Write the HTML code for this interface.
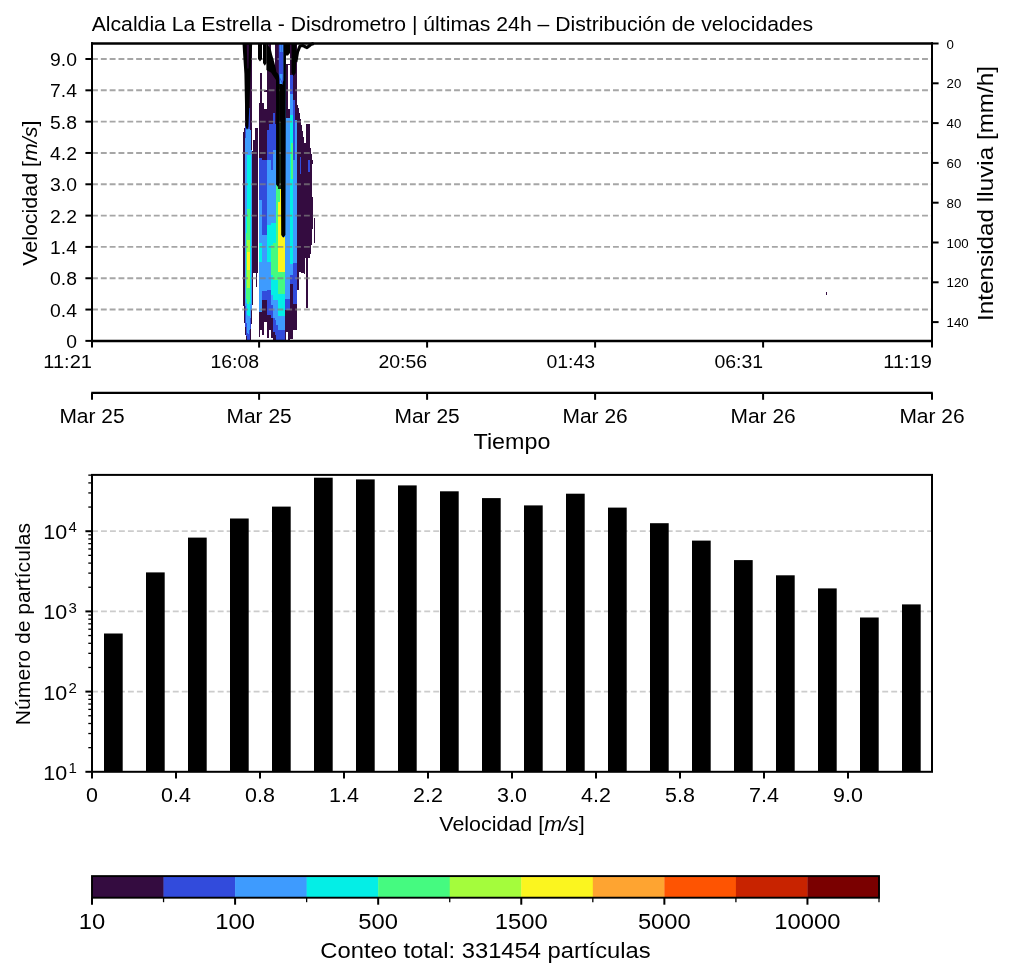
<!DOCTYPE html>
<html><head><meta charset="utf-8"><title>Disdrometro</title>
<style>
html,body{margin:0;padding:0;background:#fff;width:1013px;height:977px;overflow:hidden;}
svg{display:block;will-change:transform;font-family:"Liberation Sans",sans-serif;}
</style></head><body>
<svg width="1013" height="977" viewBox="0 0 1013 977">
<rect width="1013" height="977" fill="#fff"/>
<text x="91.70" y="31.00" font-size="19.88" text-anchor="start" textLength="721.45" lengthAdjust="spacingAndGlyphs">Alcaldia La Estrella - Disdrometro | últimas 24h – Distribución de velocidades</text>
<g shape-rendering="crispEdges"><polygon points="246.6,43.0 252.3,43.0 252.8,300.0 251.6,322.0 250.7,341.0 246.0,341.0 244.4,322.0 243.2,300.0 243.4,132.0 245.0,126.0" fill="#340c40"/>
<polygon points="248.5,108.0 251.2,108.0 251.6,300.0 250.6,328.0 249.8,340.0 247.0,340.0 245.4,326.0 244.6,300.0 244.8,130.0" fill="#324bdc"/>
<polygon points="246.0,128.0 251.0,130.0 251.4,300.0 250.2,322.0 249.2,334.0 247.6,334.0 246.2,320.0 245.2,300.0 245.4,140.0" fill="#3e9bfe"/>
<polygon points="250.5,150.0 252.0,150.0 252.1,300.0 251.0,318.0 250.0,318.0" fill="#3e9bfe"/>
<polygon points="247.4,155.0 250.8,155.0 251.0,298.0 249.6,316.0 247.6,316.0 246.1,298.0 246.6,200.0" fill="#04eee6"/>
<polygon points="246.6,209.0 250.4,209.0 250.4,298.0 249.2,304.0 247.6,304.0 246.3,298.0" fill="#45fa80"/>
<polygon points="247.0,240.0 250.0,240.0 249.8,288.0 247.2,288.0" fill="#a4fc3c"/>
<polygon points="247.4,252.0 249.6,252.0 249.6,270.0 247.4,270.0" fill="#fbf51f"/>
<rect x="249.7" y="88.0" width="2.1" height="42.0" fill="#340c40"/>
<rect x="252.8" y="140.0" width="3.0" height="133.0" fill="#340c40"/>
<rect x="255.8" y="128.0" width="2.5" height="145.0" fill="#340c40"/>
<rect x="256.0" y="273.0" width="1.4" height="14.0" fill="#340c40"/>
<rect x="255.4" y="128.0" width="1.0" height="15.0" fill="#340c40"/>
<rect x="259.0" y="103.0" width="1.0" height="55.0" fill="#340c40"/>
<rect x="259.0" y="158.0" width="1.0" height="42.0" fill="#324bdc"/>
<rect x="259.0" y="200.0" width="1.0" height="43.0" fill="#3e9bfe"/>
<rect x="259.0" y="243.0" width="1.0" height="19.0" fill="#04eee6"/>
<rect x="259.0" y="262.0" width="1.0" height="50.0" fill="#3e9bfe"/>
<rect x="259.0" y="312.0" width="1.0" height="25.0" fill="#340c40"/>
<rect x="260.0" y="72.7" width="2.0" height="85.3" fill="#340c40"/>
<rect x="260.0" y="158.0" width="2.0" height="42.0" fill="#324bdc"/>
<rect x="260.0" y="200.0" width="2.0" height="43.0" fill="#3e9bfe"/>
<rect x="260.0" y="243.0" width="2.0" height="19.0" fill="#04eee6"/>
<rect x="260.0" y="262.0" width="2.0" height="50.0" fill="#3e9bfe"/>
<rect x="260.0" y="312.0" width="2.0" height="18.0" fill="#340c40"/>
<rect x="262.0" y="103.0" width="2.0" height="57.0" fill="#340c40"/>
<rect x="262.0" y="160.0" width="2.0" height="75.0" fill="#324bdc"/>
<rect x="262.0" y="235.0" width="2.0" height="56.0" fill="#3e9bfe"/>
<rect x="262.0" y="291.0" width="2.0" height="9.0" fill="#324bdc"/>
<rect x="262.0" y="300.0" width="2.0" height="35.0" fill="#340c40"/>
<rect x="264.0" y="90.0" width="2.6" height="2.0" fill="#340c40"/>
<rect x="264.0" y="109.0" width="2.6" height="51.0" fill="#340c40"/>
<rect x="264.0" y="160.0" width="2.6" height="75.0" fill="#324bdc"/>
<rect x="264.0" y="235.0" width="2.6" height="56.0" fill="#3e9bfe"/>
<rect x="264.0" y="291.0" width="2.6" height="9.0" fill="#324bdc"/>
<rect x="264.0" y="300.0" width="2.6" height="22.0" fill="#340c40"/>
<rect x="266.6" y="70.0" width="2.1" height="60.0" fill="#340c40"/>
<rect x="266.6" y="130.0" width="2.1" height="30.0" fill="#324bdc"/>
<rect x="266.6" y="160.0" width="2.1" height="65.0" fill="#3e9bfe"/>
<rect x="266.6" y="225.0" width="2.1" height="37.0" fill="#04eee6"/>
<rect x="266.6" y="262.0" width="2.1" height="28.0" fill="#3e9bfe"/>
<rect x="266.6" y="290.0" width="2.1" height="25.0" fill="#324bdc"/>
<rect x="266.6" y="315.0" width="2.1" height="23.0" fill="#340c40"/>
<rect x="268.7" y="70.0" width="2.0" height="54.0" fill="#340c40"/>
<rect x="268.7" y="124.0" width="2.0" height="36.0" fill="#324bdc"/>
<rect x="268.7" y="160.0" width="2.0" height="65.0" fill="#3e9bfe"/>
<rect x="268.7" y="225.0" width="2.0" height="37.0" fill="#04eee6"/>
<rect x="268.7" y="262.0" width="2.0" height="28.0" fill="#3e9bfe"/>
<rect x="268.7" y="290.0" width="2.0" height="25.0" fill="#324bdc"/>
<rect x="268.7" y="315.0" width="2.0" height="15.0" fill="#340c40"/>
<rect x="270.7" y="70.0" width="2.1" height="54.0" fill="#340c40"/>
<rect x="270.7" y="124.0" width="2.1" height="46.0" fill="#324bdc"/>
<rect x="270.7" y="170.0" width="2.1" height="53.0" fill="#3e9bfe"/>
<rect x="270.7" y="223.0" width="2.1" height="22.0" fill="#04eee6"/>
<rect x="270.7" y="245.0" width="2.1" height="30.0" fill="#45fa80"/>
<rect x="270.7" y="275.0" width="2.1" height="20.0" fill="#04eee6"/>
<rect x="270.7" y="295.0" width="2.1" height="10.0" fill="#3e9bfe"/>
<rect x="270.7" y="305.0" width="2.1" height="13.0" fill="#324bdc"/>
<rect x="270.7" y="318.0" width="2.1" height="20.0" fill="#340c40"/>
<rect x="272.8" y="70.0" width="2.0" height="43.0" fill="#340c40"/>
<rect x="272.8" y="113.0" width="2.0" height="37.0" fill="#324bdc"/>
<rect x="272.8" y="150.0" width="2.0" height="73.0" fill="#3e9bfe"/>
<rect x="272.8" y="223.0" width="2.0" height="20.0" fill="#04eee6"/>
<rect x="272.8" y="243.0" width="2.0" height="37.0" fill="#45fa80"/>
<rect x="272.8" y="280.0" width="2.0" height="20.0" fill="#04eee6"/>
<rect x="272.8" y="300.0" width="2.0" height="18.0" fill="#3e9bfe"/>
<rect x="272.8" y="318.0" width="2.0" height="14.0" fill="#324bdc"/>
<rect x="272.8" y="332.0" width="2.0" height="9.0" fill="#340c40"/>
<rect x="274.8" y="43.0" width="1.6" height="81.0" fill="#340c40"/>
<rect x="274.8" y="124.0" width="1.6" height="26.0" fill="#324bdc"/>
<rect x="274.8" y="150.0" width="1.6" height="73.0" fill="#3e9bfe"/>
<rect x="274.8" y="223.0" width="1.6" height="20.0" fill="#04eee6"/>
<rect x="274.8" y="243.0" width="1.6" height="37.0" fill="#45fa80"/>
<rect x="274.8" y="280.0" width="1.6" height="20.0" fill="#04eee6"/>
<rect x="274.8" y="300.0" width="1.6" height="20.0" fill="#3e9bfe"/>
<rect x="274.8" y="320.0" width="1.6" height="15.0" fill="#324bdc"/>
<rect x="274.8" y="335.0" width="1.6" height="6.0" fill="#340c40"/>
<rect x="276.4" y="43.0" width="2.0" height="32.0" fill="#340c40"/>
<rect x="276.4" y="75.0" width="2.0" height="109.0" fill="#3e9bfe"/>
<rect x="276.4" y="184.0" width="2.0" height="96.0" fill="#45fa80"/>
<rect x="276.4" y="280.0" width="2.0" height="20.0" fill="#04eee6"/>
<rect x="276.4" y="300.0" width="2.0" height="25.0" fill="#3e9bfe"/>
<rect x="276.4" y="325.0" width="2.0" height="16.0" fill="#324bdc"/>
<rect x="278.4" y="43.0" width="1.6" height="32.0" fill="#340c40"/>
<rect x="278.4" y="75.0" width="1.6" height="9.0" fill="#324bdc"/>
<rect x="278.4" y="84.0" width="1.6" height="105.0" fill="#1c2e14"/>
<rect x="278.4" y="189.0" width="1.6" height="13.0" fill="#45fa80"/>
<rect x="278.4" y="202.0" width="1.6" height="70.0" fill="#fbf51f"/>
<rect x="278.4" y="272.0" width="1.6" height="22.0" fill="#45fa80"/>
<rect x="278.4" y="294.0" width="1.6" height="22.0" fill="#04eee6"/>
<rect x="278.4" y="316.0" width="1.6" height="14.0" fill="#3e9bfe"/>
<rect x="278.4" y="330.0" width="1.6" height="11.0" fill="#324bdc"/>
<rect x="280.0" y="43.0" width="1.5" height="41.0" fill="#3e9bfe"/>
<rect x="280.0" y="84.0" width="1.5" height="38.0" fill="#000"/>
<rect x="280.0" y="122.0" width="1.5" height="67.0" fill="#1c2e14"/>
<rect x="280.0" y="189.0" width="1.5" height="83.0" fill="#fbf51f"/>
<rect x="280.0" y="272.0" width="1.5" height="22.0" fill="#45fa80"/>
<rect x="280.0" y="294.0" width="1.5" height="22.0" fill="#04eee6"/>
<rect x="280.0" y="316.0" width="1.5" height="14.0" fill="#3e9bfe"/>
<rect x="280.0" y="330.0" width="1.5" height="11.0" fill="#324bdc"/>
<rect x="281.5" y="43.0" width="3.1" height="194.0" fill="#3e9bfe"/>
<rect x="281.5" y="237.0" width="3.1" height="35.0" fill="#fbf51f"/>
<rect x="281.5" y="272.0" width="3.1" height="22.0" fill="#45fa80"/>
<rect x="281.5" y="294.0" width="3.1" height="22.0" fill="#04eee6"/>
<rect x="281.5" y="316.0" width="3.1" height="14.0" fill="#3e9bfe"/>
<rect x="281.5" y="330.0" width="3.1" height="11.0" fill="#324bdc"/>
<rect x="284.6" y="43.0" width="1.0" height="194.0" fill="#3e9bfe"/>
<rect x="284.6" y="237.0" width="1.0" height="62.0" fill="#3e9bfe"/>
<rect x="284.6" y="299.0" width="1.0" height="10.5" fill="#324bdc"/>
<rect x="284.6" y="309.5" width="1.0" height="31.5" fill="#340c40"/>
<rect x="285.6" y="63.5" width="2.4" height="54.5" fill="#340c40"/>
<rect x="285.6" y="118.0" width="2.4" height="181.0" fill="#3e9bfe"/>
<rect x="285.6" y="299.0" width="2.4" height="10.5" fill="#324bdc"/>
<rect x="285.6" y="309.5" width="2.4" height="22.5" fill="#340c40"/>
<rect x="288.0" y="63.5" width="2.2" height="54.5" fill="#340c40"/>
<rect x="288.0" y="118.0" width="2.2" height="181.0" fill="#3e9bfe"/>
<rect x="288.0" y="299.0" width="2.2" height="10.5" fill="#324bdc"/>
<rect x="288.0" y="309.5" width="2.2" height="31.5" fill="#340c40"/>
<rect x="287.7" y="64.5" width="2.0" height="44.0" fill="#fff"/>
<rect x="290.2" y="43.0" width="3.1" height="31.7" fill="#340c40"/>
<rect x="290.2" y="74.7" width="3.1" height="19.3" fill="#324bdc"/>
<rect x="290.2" y="94.0" width="3.1" height="20.6" fill="#3e9bfe"/>
<rect x="290.2" y="114.6" width="3.1" height="148.9" fill="#04eee6"/>
<rect x="290.2" y="263.5" width="3.1" height="11.5" fill="#3e9bfe"/>
<rect x="290.2" y="275.0" width="3.1" height="9.0" fill="#324bdc"/>
<rect x="290.2" y="284.0" width="3.1" height="55.0" fill="#340c40"/>
<rect x="290.7" y="143.0" width="2.1" height="36.0" fill="#45fa80"/>
<rect x="293.3" y="43.0" width="1.5" height="57.0" fill="#340c40"/>
<rect x="293.3" y="100.0" width="1.5" height="60.0" fill="#324bdc"/>
<rect x="293.3" y="160.0" width="1.5" height="103.0" fill="#3e9bfe"/>
<rect x="293.3" y="263.0" width="1.5" height="41.0" fill="#324bdc"/>
<rect x="293.3" y="304.0" width="1.5" height="26.0" fill="#340c40"/>
<rect x="294.8" y="43.0" width="2.1" height="57.0" fill="#340c40"/>
<rect x="294.8" y="100.0" width="2.1" height="20.0" fill="#340c40"/>
<rect x="294.8" y="120.0" width="2.1" height="143.0" fill="#3e9bfe"/>
<rect x="294.8" y="263.0" width="2.1" height="41.0" fill="#324bdc"/>
<rect x="294.8" y="304.0" width="2.1" height="26.0" fill="#340c40"/>
<polygon points="295.5,100.0 299.0,109.5 304.6,143.0 309.7,143.0 309.7,124.0 306.0,124.0 306.5,143.0 309.7,143.0 312.7,161.0 311.7,179.0 313.3,215.0 311.7,243.0 310.7,253.0 309.7,258.4 305.0,258.4 305.0,274.0 299.0,272.0 299.0,290.0 296.9,290.0 296.9,100.0" fill="#340c40"/>
<rect x="306.0" y="124.0" width="3.7" height="19.0" fill="#340c40"/>
<rect x="305.6" y="258.0" width="2.5" height="49.5" fill="#340c40"/>
<rect x="313.8" y="217.7" width="1.0" height="25.3" fill="#340c40"/>
<rect x="300.0" y="157.0" width="1.0" height="17.0" fill="#324bdc"/>
<rect x="308.0" y="160.0" width="1.7" height="12.0" fill="#324bdc"/>
<rect x="826.0" y="292.0" width="1.0" height="3.0" fill="#340c40"/></g>
<line x1="92.00" y1="59.00" x2="932.00" y2="59.00" stroke="#808080" stroke-width="1.9" stroke-opacity="0.7" stroke-dasharray="5.9 2.93"/>
<line x1="92.00" y1="90.32" x2="932.00" y2="90.32" stroke="#808080" stroke-width="1.9" stroke-opacity="0.7" stroke-dasharray="5.9 2.93"/>
<line x1="92.00" y1="121.64" x2="932.00" y2="121.64" stroke="#808080" stroke-width="1.9" stroke-opacity="0.7" stroke-dasharray="5.9 2.93"/>
<line x1="92.00" y1="152.96" x2="932.00" y2="152.96" stroke="#808080" stroke-width="1.9" stroke-opacity="0.7" stroke-dasharray="5.9 2.93"/>
<line x1="92.00" y1="184.28" x2="932.00" y2="184.28" stroke="#808080" stroke-width="1.9" stroke-opacity="0.7" stroke-dasharray="5.9 2.93"/>
<line x1="92.00" y1="215.60" x2="932.00" y2="215.60" stroke="#808080" stroke-width="1.9" stroke-opacity="0.7" stroke-dasharray="5.9 2.93"/>
<line x1="92.00" y1="246.92" x2="932.00" y2="246.92" stroke="#808080" stroke-width="1.9" stroke-opacity="0.7" stroke-dasharray="5.9 2.93"/>
<line x1="92.00" y1="278.24" x2="932.00" y2="278.24" stroke="#808080" stroke-width="1.9" stroke-opacity="0.7" stroke-dasharray="5.9 2.93"/>
<line x1="92.00" y1="309.56" x2="932.00" y2="309.56" stroke="#808080" stroke-width="1.9" stroke-opacity="0.7" stroke-dasharray="5.9 2.93"/>
<g><polygon points="242.5,43.0 252.2,43.0 250.6,73.7 249.4,104.0 248.4,127.0 247.0,129.8 245.6,127.0 245.0,104.0 244.4,73.7 243.0,52.0" fill="#000"/>
<polygon points="246.7,44.5 249.0,44.5 248.4,68.6 247.5,68.6" fill="#340c40"/>
<polygon points="258.0,43.0 262.0,43.0 262.0,59.0 260.0,61.6 258.0,59.0" fill="#000"/>
<polygon points="263.0,43.0 266.6,43.0 266.6,63.0 264.8,65.8 263.0,63.0" fill="#000"/>
<polygon points="268.2,43.5 271.0,43.5 271.0,50.0 268.2,50.0" fill="#340c40"/>
<polygon points="266.4,43.0 268.2,43.0 268.2,46.0 269.2,46.5 271.0,50.0 272.2,55.0 274.2,62.0 275.7,68.0 276.4,72.0 279.2,75.0 279.4,184.5 277.9,186.8 276.1,184.5 276.0,80.0 274.0,77.0 271.0,72.5 268.0,71.0 266.4,70.0" fill="#000"/>
<polygon points="278.8,43.0 283.4,43.0 283.4,80.0 282.4,84.5 279.4,78.0 278.8,75.0" fill="#324bdc"/>
<polygon points="279.8,44.0 280.8,44.0 280.8,52.0 279.8,52.0" fill="#3e9bfe"/>
<polygon points="281.6,44.0 282.8,44.0 282.8,52.0 281.6,52.0" fill="#3e9bfe"/>
<polygon points="279.6,74.0 282.6,74.0 282.3,82.0 281.2,80.0 279.8,77.0" fill="#3e9bfe"/>
<polygon points="283.4,43.0 286.0,43.0 285.8,100.0 285.4,235.0 283.3,237.8 281.2,235.0 280.7,122.0 279.4,84.0 282.4,84.5 283.4,80.0" fill="#000"/>
<polygon points="279.2,75.0 279.4,84.0 280.7,122.0 279.4,122.0" fill="#000"/>
<polygon points="285.3,43.0 290.0,43.0 290.0,53.0 288.0,55.5 286.0,55.5 285.3,56.0" fill="#000"/>
<polygon points="291.5,43.0 296.5,43.0 296.2,60.0 295.7,73.0 293.6,76.0 291.5,73.0" fill="#000"/>
<polyline points="295.8,62 297.5,52 300,46 303,45.5 304.6,46.5 307,47.6 309,46 310.7,44.5 313.8,43.5" fill="none" stroke="#000" stroke-width="3.2" stroke-linejoin="round"/></g>
<line x1="92.00" y1="42.30" x2="92.00" y2="342.20" stroke="#000" stroke-width="2.0"/>
<line x1="932.00" y1="42.30" x2="932.00" y2="342.20" stroke="#000" stroke-width="2.0"/>
<line x1="91.00" y1="43.50" x2="933.00" y2="43.50" stroke="#000" stroke-width="2.4"/>
<line x1="91.00" y1="341.00" x2="933.00" y2="341.00" stroke="#000" stroke-width="2.4"/>
<line x1="85.40" y1="59.00" x2="92.00" y2="59.00" stroke="#000" stroke-width="2.0"/>
<text x="77.00" y="65.96" font-size="17.91" text-anchor="end" textLength="26.88" lengthAdjust="spacingAndGlyphs">9.0</text>
<line x1="85.40" y1="90.32" x2="92.00" y2="90.32" stroke="#000" stroke-width="2.0"/>
<text x="77.00" y="97.28" font-size="17.91" text-anchor="end" textLength="26.88" lengthAdjust="spacingAndGlyphs">7.4</text>
<line x1="85.40" y1="121.64" x2="92.00" y2="121.64" stroke="#000" stroke-width="2.0"/>
<text x="77.00" y="128.60" font-size="17.91" text-anchor="end" textLength="26.88" lengthAdjust="spacingAndGlyphs">5.8</text>
<line x1="85.40" y1="152.96" x2="92.00" y2="152.96" stroke="#000" stroke-width="2.0"/>
<text x="77.00" y="159.92" font-size="17.91" text-anchor="end" textLength="26.88" lengthAdjust="spacingAndGlyphs">4.2</text>
<line x1="85.40" y1="184.28" x2="92.00" y2="184.28" stroke="#000" stroke-width="2.0"/>
<text x="77.00" y="191.24" font-size="17.91" text-anchor="end" textLength="26.88" lengthAdjust="spacingAndGlyphs">3.0</text>
<line x1="85.40" y1="215.60" x2="92.00" y2="215.60" stroke="#000" stroke-width="2.0"/>
<text x="77.00" y="222.56" font-size="17.91" text-anchor="end" textLength="26.88" lengthAdjust="spacingAndGlyphs">2.2</text>
<line x1="85.40" y1="246.92" x2="92.00" y2="246.92" stroke="#000" stroke-width="2.0"/>
<text x="77.00" y="253.88" font-size="17.91" text-anchor="end" textLength="26.88" lengthAdjust="spacingAndGlyphs">1.4</text>
<line x1="85.40" y1="278.24" x2="92.00" y2="278.24" stroke="#000" stroke-width="2.0"/>
<text x="77.00" y="285.20" font-size="17.91" text-anchor="end" textLength="26.88" lengthAdjust="spacingAndGlyphs">0.8</text>
<line x1="85.40" y1="309.56" x2="92.00" y2="309.56" stroke="#000" stroke-width="2.0"/>
<text x="77.00" y="316.52" font-size="17.91" text-anchor="end" textLength="26.88" lengthAdjust="spacingAndGlyphs">0.4</text>
<line x1="85.40" y1="340.88" x2="92.00" y2="340.88" stroke="#000" stroke-width="2.0"/>
<text x="77.00" y="347.84" font-size="17.91" text-anchor="end" textLength="10.75" lengthAdjust="spacingAndGlyphs">0</text>
<line x1="92.00" y1="341.00" x2="92.00" y2="347.60" stroke="#000" stroke-width="2.0"/>
<text x="92.00" y="368.00" font-size="17.91" text-anchor="end" textLength="48.70" lengthAdjust="spacingAndGlyphs">11:21</text>
<line x1="259.10" y1="341.00" x2="259.10" y2="347.60" stroke="#000" stroke-width="2.0"/>
<text x="259.10" y="368.00" font-size="17.91" text-anchor="end" textLength="48.70" lengthAdjust="spacingAndGlyphs">16:08</text>
<line x1="427.10" y1="341.00" x2="427.10" y2="347.60" stroke="#000" stroke-width="2.0"/>
<text x="427.10" y="368.00" font-size="17.91" text-anchor="end" textLength="48.70" lengthAdjust="spacingAndGlyphs">20:56</text>
<line x1="595.10" y1="341.00" x2="595.10" y2="347.60" stroke="#000" stroke-width="2.0"/>
<text x="595.10" y="368.00" font-size="17.91" text-anchor="end" textLength="48.70" lengthAdjust="spacingAndGlyphs">01:43</text>
<line x1="763.10" y1="341.00" x2="763.10" y2="347.60" stroke="#000" stroke-width="2.0"/>
<text x="763.10" y="368.00" font-size="17.91" text-anchor="end" textLength="48.70" lengthAdjust="spacingAndGlyphs">06:31</text>
<line x1="932.00" y1="341.00" x2="932.00" y2="347.60" stroke="#000" stroke-width="2.0"/>
<text x="932.00" y="368.00" font-size="17.91" text-anchor="end" textLength="48.70" lengthAdjust="spacingAndGlyphs">11:19</text>
<line x1="932.00" y1="43.50" x2="938.60" y2="43.50" stroke="#000" stroke-width="2.0"/>
<text x="946.60" y="48.53" font-size="12.30" text-anchor="start" textLength="7.38" lengthAdjust="spacingAndGlyphs">0</text>
<line x1="932.00" y1="83.30" x2="938.60" y2="83.30" stroke="#000" stroke-width="2.0"/>
<text x="946.60" y="88.33" font-size="12.30" text-anchor="start" textLength="14.76" lengthAdjust="spacingAndGlyphs">20</text>
<line x1="932.00" y1="123.10" x2="938.60" y2="123.10" stroke="#000" stroke-width="2.0"/>
<text x="946.60" y="128.13" font-size="12.30" text-anchor="start" textLength="14.76" lengthAdjust="spacingAndGlyphs">40</text>
<line x1="932.00" y1="162.90" x2="938.60" y2="162.90" stroke="#000" stroke-width="2.0"/>
<text x="946.60" y="167.93" font-size="12.30" text-anchor="start" textLength="14.76" lengthAdjust="spacingAndGlyphs">60</text>
<line x1="932.00" y1="202.70" x2="938.60" y2="202.70" stroke="#000" stroke-width="2.0"/>
<text x="946.60" y="207.73" font-size="12.30" text-anchor="start" textLength="14.76" lengthAdjust="spacingAndGlyphs">80</text>
<line x1="932.00" y1="242.50" x2="938.60" y2="242.50" stroke="#000" stroke-width="2.0"/>
<text x="946.60" y="247.53" font-size="12.30" text-anchor="start" textLength="22.14" lengthAdjust="spacingAndGlyphs">100</text>
<line x1="932.00" y1="282.30" x2="938.60" y2="282.30" stroke="#000" stroke-width="2.0"/>
<text x="946.60" y="287.33" font-size="12.30" text-anchor="start" textLength="22.14" lengthAdjust="spacingAndGlyphs">120</text>
<line x1="932.00" y1="322.10" x2="938.60" y2="322.10" stroke="#000" stroke-width="2.0"/>
<text x="946.60" y="327.13" font-size="12.30" text-anchor="start" textLength="22.14" lengthAdjust="spacingAndGlyphs">140</text>
<text x="993.00" y="193.40" font-size="22.05" text-anchor="middle" textLength="254.96" lengthAdjust="spacingAndGlyphs" transform="rotate(-90 993.0 193.4)">Intensidad lluvia [mm/h]</text>
<text x="36.90" y="193.20" font-size="19.88" text-anchor="middle" textLength="145.34" lengthAdjust="spacingAndGlyphs" transform="rotate(-90 36.9 193.2)">Velocidad [<tspan font-style="italic">m/s</tspan>]</text>
<line x1="91.20" y1="392.90" x2="932.80" y2="392.90" stroke="#000" stroke-width="2.2"/>
<line x1="92.00" y1="392.90" x2="92.00" y2="399.80" stroke="#000" stroke-width="2.0"/>
<text x="92.00" y="422.60" font-size="19.88" text-anchor="middle" textLength="65.20" lengthAdjust="spacingAndGlyphs">Mar 25</text>
<line x1="259.10" y1="392.90" x2="259.10" y2="399.80" stroke="#000" stroke-width="2.0"/>
<text x="259.10" y="422.60" font-size="19.88" text-anchor="middle" textLength="65.20" lengthAdjust="spacingAndGlyphs">Mar 25</text>
<line x1="427.10" y1="392.90" x2="427.10" y2="399.80" stroke="#000" stroke-width="2.0"/>
<text x="427.10" y="422.60" font-size="19.88" text-anchor="middle" textLength="65.20" lengthAdjust="spacingAndGlyphs">Mar 25</text>
<line x1="595.10" y1="392.90" x2="595.10" y2="399.80" stroke="#000" stroke-width="2.0"/>
<text x="595.10" y="422.60" font-size="19.88" text-anchor="middle" textLength="65.20" lengthAdjust="spacingAndGlyphs">Mar 26</text>
<line x1="763.10" y1="392.90" x2="763.10" y2="399.80" stroke="#000" stroke-width="2.0"/>
<text x="763.10" y="422.60" font-size="19.88" text-anchor="middle" textLength="65.20" lengthAdjust="spacingAndGlyphs">Mar 26</text>
<line x1="932.00" y1="392.90" x2="932.00" y2="399.80" stroke="#000" stroke-width="2.0"/>
<text x="932.00" y="422.60" font-size="19.88" text-anchor="middle" textLength="65.20" lengthAdjust="spacingAndGlyphs">Mar 26</text>
<text x="512.00" y="448.70" font-size="22.05" text-anchor="middle" textLength="76.83" lengthAdjust="spacingAndGlyphs">Tiempo</text>
<line x1="92.00" y1="691.60" x2="932.00" y2="691.60" stroke="#808080" stroke-width="1.8" stroke-opacity="0.4" stroke-dasharray="5.9 3.08"/>
<line x1="92.00" y1="611.40" x2="932.00" y2="611.40" stroke="#808080" stroke-width="1.8" stroke-opacity="0.4" stroke-dasharray="5.9 3.08"/>
<line x1="92.00" y1="531.20" x2="932.00" y2="531.20" stroke="#808080" stroke-width="1.8" stroke-opacity="0.4" stroke-dasharray="5.9 3.08"/>
<rect x="104.00" y="633.50" width="18.70" height="138.30" fill="#000"/>
<rect x="146.00" y="572.40" width="18.70" height="199.40" fill="#000"/>
<rect x="188.00" y="537.60" width="18.70" height="234.20" fill="#000"/>
<rect x="230.00" y="518.50" width="18.70" height="253.30" fill="#000"/>
<rect x="272.00" y="506.60" width="18.70" height="265.20" fill="#000"/>
<rect x="314.00" y="477.70" width="18.70" height="294.10" fill="#000"/>
<rect x="356.00" y="479.40" width="18.70" height="292.40" fill="#000"/>
<rect x="398.00" y="485.40" width="18.70" height="286.40" fill="#000"/>
<rect x="440.00" y="491.30" width="18.70" height="280.50" fill="#000"/>
<rect x="482.00" y="498.10" width="18.70" height="273.70" fill="#000"/>
<rect x="524.00" y="505.40" width="18.70" height="266.40" fill="#000"/>
<rect x="566.00" y="493.70" width="18.70" height="278.10" fill="#000"/>
<rect x="608.00" y="507.60" width="18.70" height="264.20" fill="#000"/>
<rect x="650.00" y="523.20" width="18.70" height="248.60" fill="#000"/>
<rect x="692.00" y="540.60" width="18.70" height="231.20" fill="#000"/>
<rect x="734.00" y="560.10" width="18.70" height="211.70" fill="#000"/>
<rect x="776.00" y="575.30" width="18.70" height="196.50" fill="#000"/>
<rect x="818.00" y="588.40" width="18.70" height="183.40" fill="#000"/>
<rect x="860.00" y="617.50" width="18.70" height="154.30" fill="#000"/>
<rect x="902.00" y="604.40" width="18.70" height="167.40" fill="#000"/>
<rect x="92.0" y="474.9" width="840.0" height="296.9" fill="none" stroke="#000" stroke-width="2.0"/>
<line x1="85.40" y1="771.80" x2="92.00" y2="771.80" stroke="#000" stroke-width="2.0"/>
<text x="67.20" y="779.80" font-size="19.88" text-anchor="end" textLength="23.86" lengthAdjust="spacingAndGlyphs">10</text>
<text x="68.50" y="773.00" font-size="13.89" text-anchor="start" textLength="8.33" lengthAdjust="spacingAndGlyphs">1</text>
<line x1="85.40" y1="691.60" x2="92.00" y2="691.60" stroke="#000" stroke-width="2.0"/>
<text x="67.20" y="699.60" font-size="19.88" text-anchor="end" textLength="23.86" lengthAdjust="spacingAndGlyphs">10</text>
<text x="68.50" y="692.80" font-size="13.89" text-anchor="start" textLength="8.33" lengthAdjust="spacingAndGlyphs">2</text>
<line x1="85.40" y1="611.40" x2="92.00" y2="611.40" stroke="#000" stroke-width="2.0"/>
<text x="67.20" y="619.40" font-size="19.88" text-anchor="end" textLength="23.86" lengthAdjust="spacingAndGlyphs">10</text>
<text x="68.50" y="612.60" font-size="13.89" text-anchor="start" textLength="8.33" lengthAdjust="spacingAndGlyphs">3</text>
<line x1="85.40" y1="531.20" x2="92.00" y2="531.20" stroke="#000" stroke-width="2.0"/>
<text x="67.20" y="539.20" font-size="19.88" text-anchor="end" textLength="23.86" lengthAdjust="spacingAndGlyphs">10</text>
<text x="68.50" y="532.40" font-size="13.89" text-anchor="start" textLength="8.33" lengthAdjust="spacingAndGlyphs">4</text>
<line x1="88.30" y1="747.66" x2="92.00" y2="747.66" stroke="#000" stroke-width="1.3"/>
<line x1="88.30" y1="733.53" x2="92.00" y2="733.53" stroke="#000" stroke-width="1.3"/>
<line x1="88.30" y1="723.51" x2="92.00" y2="723.51" stroke="#000" stroke-width="1.3"/>
<line x1="88.30" y1="715.74" x2="92.00" y2="715.74" stroke="#000" stroke-width="1.3"/>
<line x1="88.30" y1="709.39" x2="92.00" y2="709.39" stroke="#000" stroke-width="1.3"/>
<line x1="88.30" y1="704.02" x2="92.00" y2="704.02" stroke="#000" stroke-width="1.3"/>
<line x1="88.30" y1="699.37" x2="92.00" y2="699.37" stroke="#000" stroke-width="1.3"/>
<line x1="88.30" y1="695.27" x2="92.00" y2="695.27" stroke="#000" stroke-width="1.3"/>
<line x1="88.30" y1="667.46" x2="92.00" y2="667.46" stroke="#000" stroke-width="1.3"/>
<line x1="88.30" y1="653.33" x2="92.00" y2="653.33" stroke="#000" stroke-width="1.3"/>
<line x1="88.30" y1="643.31" x2="92.00" y2="643.31" stroke="#000" stroke-width="1.3"/>
<line x1="88.30" y1="635.54" x2="92.00" y2="635.54" stroke="#000" stroke-width="1.3"/>
<line x1="88.30" y1="629.19" x2="92.00" y2="629.19" stroke="#000" stroke-width="1.3"/>
<line x1="88.30" y1="623.82" x2="92.00" y2="623.82" stroke="#000" stroke-width="1.3"/>
<line x1="88.30" y1="619.17" x2="92.00" y2="619.17" stroke="#000" stroke-width="1.3"/>
<line x1="88.30" y1="615.07" x2="92.00" y2="615.07" stroke="#000" stroke-width="1.3"/>
<line x1="88.30" y1="587.26" x2="92.00" y2="587.26" stroke="#000" stroke-width="1.3"/>
<line x1="88.30" y1="573.13" x2="92.00" y2="573.13" stroke="#000" stroke-width="1.3"/>
<line x1="88.30" y1="563.11" x2="92.00" y2="563.11" stroke="#000" stroke-width="1.3"/>
<line x1="88.30" y1="555.34" x2="92.00" y2="555.34" stroke="#000" stroke-width="1.3"/>
<line x1="88.30" y1="548.99" x2="92.00" y2="548.99" stroke="#000" stroke-width="1.3"/>
<line x1="88.30" y1="543.62" x2="92.00" y2="543.62" stroke="#000" stroke-width="1.3"/>
<line x1="88.30" y1="538.97" x2="92.00" y2="538.97" stroke="#000" stroke-width="1.3"/>
<line x1="88.30" y1="534.87" x2="92.00" y2="534.87" stroke="#000" stroke-width="1.3"/>
<line x1="88.30" y1="507.06" x2="92.00" y2="507.06" stroke="#000" stroke-width="1.3"/>
<line x1="88.30" y1="492.93" x2="92.00" y2="492.93" stroke="#000" stroke-width="1.3"/>
<line x1="88.30" y1="482.91" x2="92.00" y2="482.91" stroke="#000" stroke-width="1.3"/>
<line x1="88.30" y1="475.14" x2="92.00" y2="475.14" stroke="#000" stroke-width="1.3"/>
<line x1="92.00" y1="771.80" x2="92.00" y2="778.40" stroke="#000" stroke-width="2.0"/>
<text x="92.00" y="802.00" font-size="19.88" text-anchor="middle" textLength="11.93" lengthAdjust="spacingAndGlyphs">0</text>
<line x1="176.00" y1="771.80" x2="176.00" y2="778.40" stroke="#000" stroke-width="2.0"/>
<text x="176.00" y="802.00" font-size="19.88" text-anchor="middle" textLength="29.82" lengthAdjust="spacingAndGlyphs">0.4</text>
<line x1="260.00" y1="771.80" x2="260.00" y2="778.40" stroke="#000" stroke-width="2.0"/>
<text x="260.00" y="802.00" font-size="19.88" text-anchor="middle" textLength="29.82" lengthAdjust="spacingAndGlyphs">0.8</text>
<line x1="344.00" y1="771.80" x2="344.00" y2="778.40" stroke="#000" stroke-width="2.0"/>
<text x="344.00" y="802.00" font-size="19.88" text-anchor="middle" textLength="29.82" lengthAdjust="spacingAndGlyphs">1.4</text>
<line x1="428.00" y1="771.80" x2="428.00" y2="778.40" stroke="#000" stroke-width="2.0"/>
<text x="428.00" y="802.00" font-size="19.88" text-anchor="middle" textLength="29.82" lengthAdjust="spacingAndGlyphs">2.2</text>
<line x1="512.00" y1="771.80" x2="512.00" y2="778.40" stroke="#000" stroke-width="2.0"/>
<text x="512.00" y="802.00" font-size="19.88" text-anchor="middle" textLength="29.82" lengthAdjust="spacingAndGlyphs">3.0</text>
<line x1="596.00" y1="771.80" x2="596.00" y2="778.40" stroke="#000" stroke-width="2.0"/>
<text x="596.00" y="802.00" font-size="19.88" text-anchor="middle" textLength="29.82" lengthAdjust="spacingAndGlyphs">4.2</text>
<line x1="680.00" y1="771.80" x2="680.00" y2="778.40" stroke="#000" stroke-width="2.0"/>
<text x="680.00" y="802.00" font-size="19.88" text-anchor="middle" textLength="29.82" lengthAdjust="spacingAndGlyphs">5.8</text>
<line x1="764.00" y1="771.80" x2="764.00" y2="778.40" stroke="#000" stroke-width="2.0"/>
<text x="764.00" y="802.00" font-size="19.88" text-anchor="middle" textLength="29.82" lengthAdjust="spacingAndGlyphs">7.4</text>
<line x1="848.00" y1="771.80" x2="848.00" y2="778.40" stroke="#000" stroke-width="2.0"/>
<text x="848.00" y="802.00" font-size="19.88" text-anchor="middle" textLength="29.82" lengthAdjust="spacingAndGlyphs">9.0</text>
<text x="512.00" y="831.00" font-size="19.88" text-anchor="middle" textLength="145.34" lengthAdjust="spacingAndGlyphs">Velocidad [<tspan font-style="italic">m/s</tspan>]</text>
<text x="29.90" y="624.10" font-size="19.88" text-anchor="middle" textLength="202.16" lengthAdjust="spacingAndGlyphs" transform="rotate(-90 29.9 624.1)">Número de partículas</text>
<rect x="92.00" y="876.10" width="71.85" height="21.60" fill="#340c40"/>
<rect x="163.55" y="876.10" width="71.85" height="21.60" fill="#324bdc"/>
<rect x="235.09" y="876.10" width="71.85" height="21.60" fill="#3e9bfe"/>
<rect x="306.64" y="876.10" width="71.85" height="21.60" fill="#04eee6"/>
<rect x="378.18" y="876.10" width="71.85" height="21.60" fill="#45fa80"/>
<rect x="449.73" y="876.10" width="71.85" height="21.60" fill="#a4fc3c"/>
<rect x="521.27" y="876.10" width="71.85" height="21.60" fill="#fbf51f"/>
<rect x="592.82" y="876.10" width="71.85" height="21.60" fill="#fea431"/>
<rect x="664.36" y="876.10" width="71.85" height="21.60" fill="#fe5402"/>
<rect x="735.91" y="876.10" width="71.85" height="21.60" fill="#c82300"/>
<rect x="807.45" y="876.10" width="71.85" height="21.60" fill="#7a0000"/>
<rect x="92.0" y="876.1" width="787.0" height="21.600000000000023" fill="none" stroke="#000" stroke-width="1.9"/>
<line x1="92.00" y1="897.70" x2="92.00" y2="904.70" stroke="#000" stroke-width="2.0"/>
<text x="92.00" y="928.60" font-size="22.05" text-anchor="middle" textLength="26.47" lengthAdjust="spacingAndGlyphs">10</text>
<line x1="163.55" y1="897.70" x2="163.55" y2="902.20" stroke="#000" stroke-width="1.3"/>
<line x1="235.09" y1="897.70" x2="235.09" y2="904.70" stroke="#000" stroke-width="2.0"/>
<text x="235.09" y="928.60" font-size="22.05" text-anchor="middle" textLength="39.70" lengthAdjust="spacingAndGlyphs">100</text>
<line x1="306.64" y1="897.70" x2="306.64" y2="902.20" stroke="#000" stroke-width="1.3"/>
<line x1="378.18" y1="897.70" x2="378.18" y2="904.70" stroke="#000" stroke-width="2.0"/>
<text x="378.18" y="928.60" font-size="22.05" text-anchor="middle" textLength="39.70" lengthAdjust="spacingAndGlyphs">500</text>
<line x1="449.73" y1="897.70" x2="449.73" y2="902.20" stroke="#000" stroke-width="1.3"/>
<line x1="521.27" y1="897.70" x2="521.27" y2="904.70" stroke="#000" stroke-width="2.0"/>
<text x="521.27" y="928.60" font-size="22.05" text-anchor="middle" textLength="52.93" lengthAdjust="spacingAndGlyphs">1500</text>
<line x1="592.82" y1="897.70" x2="592.82" y2="902.20" stroke="#000" stroke-width="1.3"/>
<line x1="664.36" y1="897.70" x2="664.36" y2="904.70" stroke="#000" stroke-width="2.0"/>
<text x="664.36" y="928.60" font-size="22.05" text-anchor="middle" textLength="52.93" lengthAdjust="spacingAndGlyphs">5000</text>
<line x1="735.91" y1="897.70" x2="735.91" y2="902.20" stroke="#000" stroke-width="1.3"/>
<line x1="807.45" y1="897.70" x2="807.45" y2="904.70" stroke="#000" stroke-width="2.0"/>
<text x="807.45" y="928.60" font-size="22.05" text-anchor="middle" textLength="66.17" lengthAdjust="spacingAndGlyphs">10000</text>
<line x1="879.00" y1="897.70" x2="879.00" y2="902.20" stroke="#000" stroke-width="1.3"/>
<text x="485.50" y="957.60" font-size="22.05" text-anchor="middle" textLength="330.33" lengthAdjust="spacingAndGlyphs">Conteo total: 331454 partículas</text>
</svg>
</body></html>
